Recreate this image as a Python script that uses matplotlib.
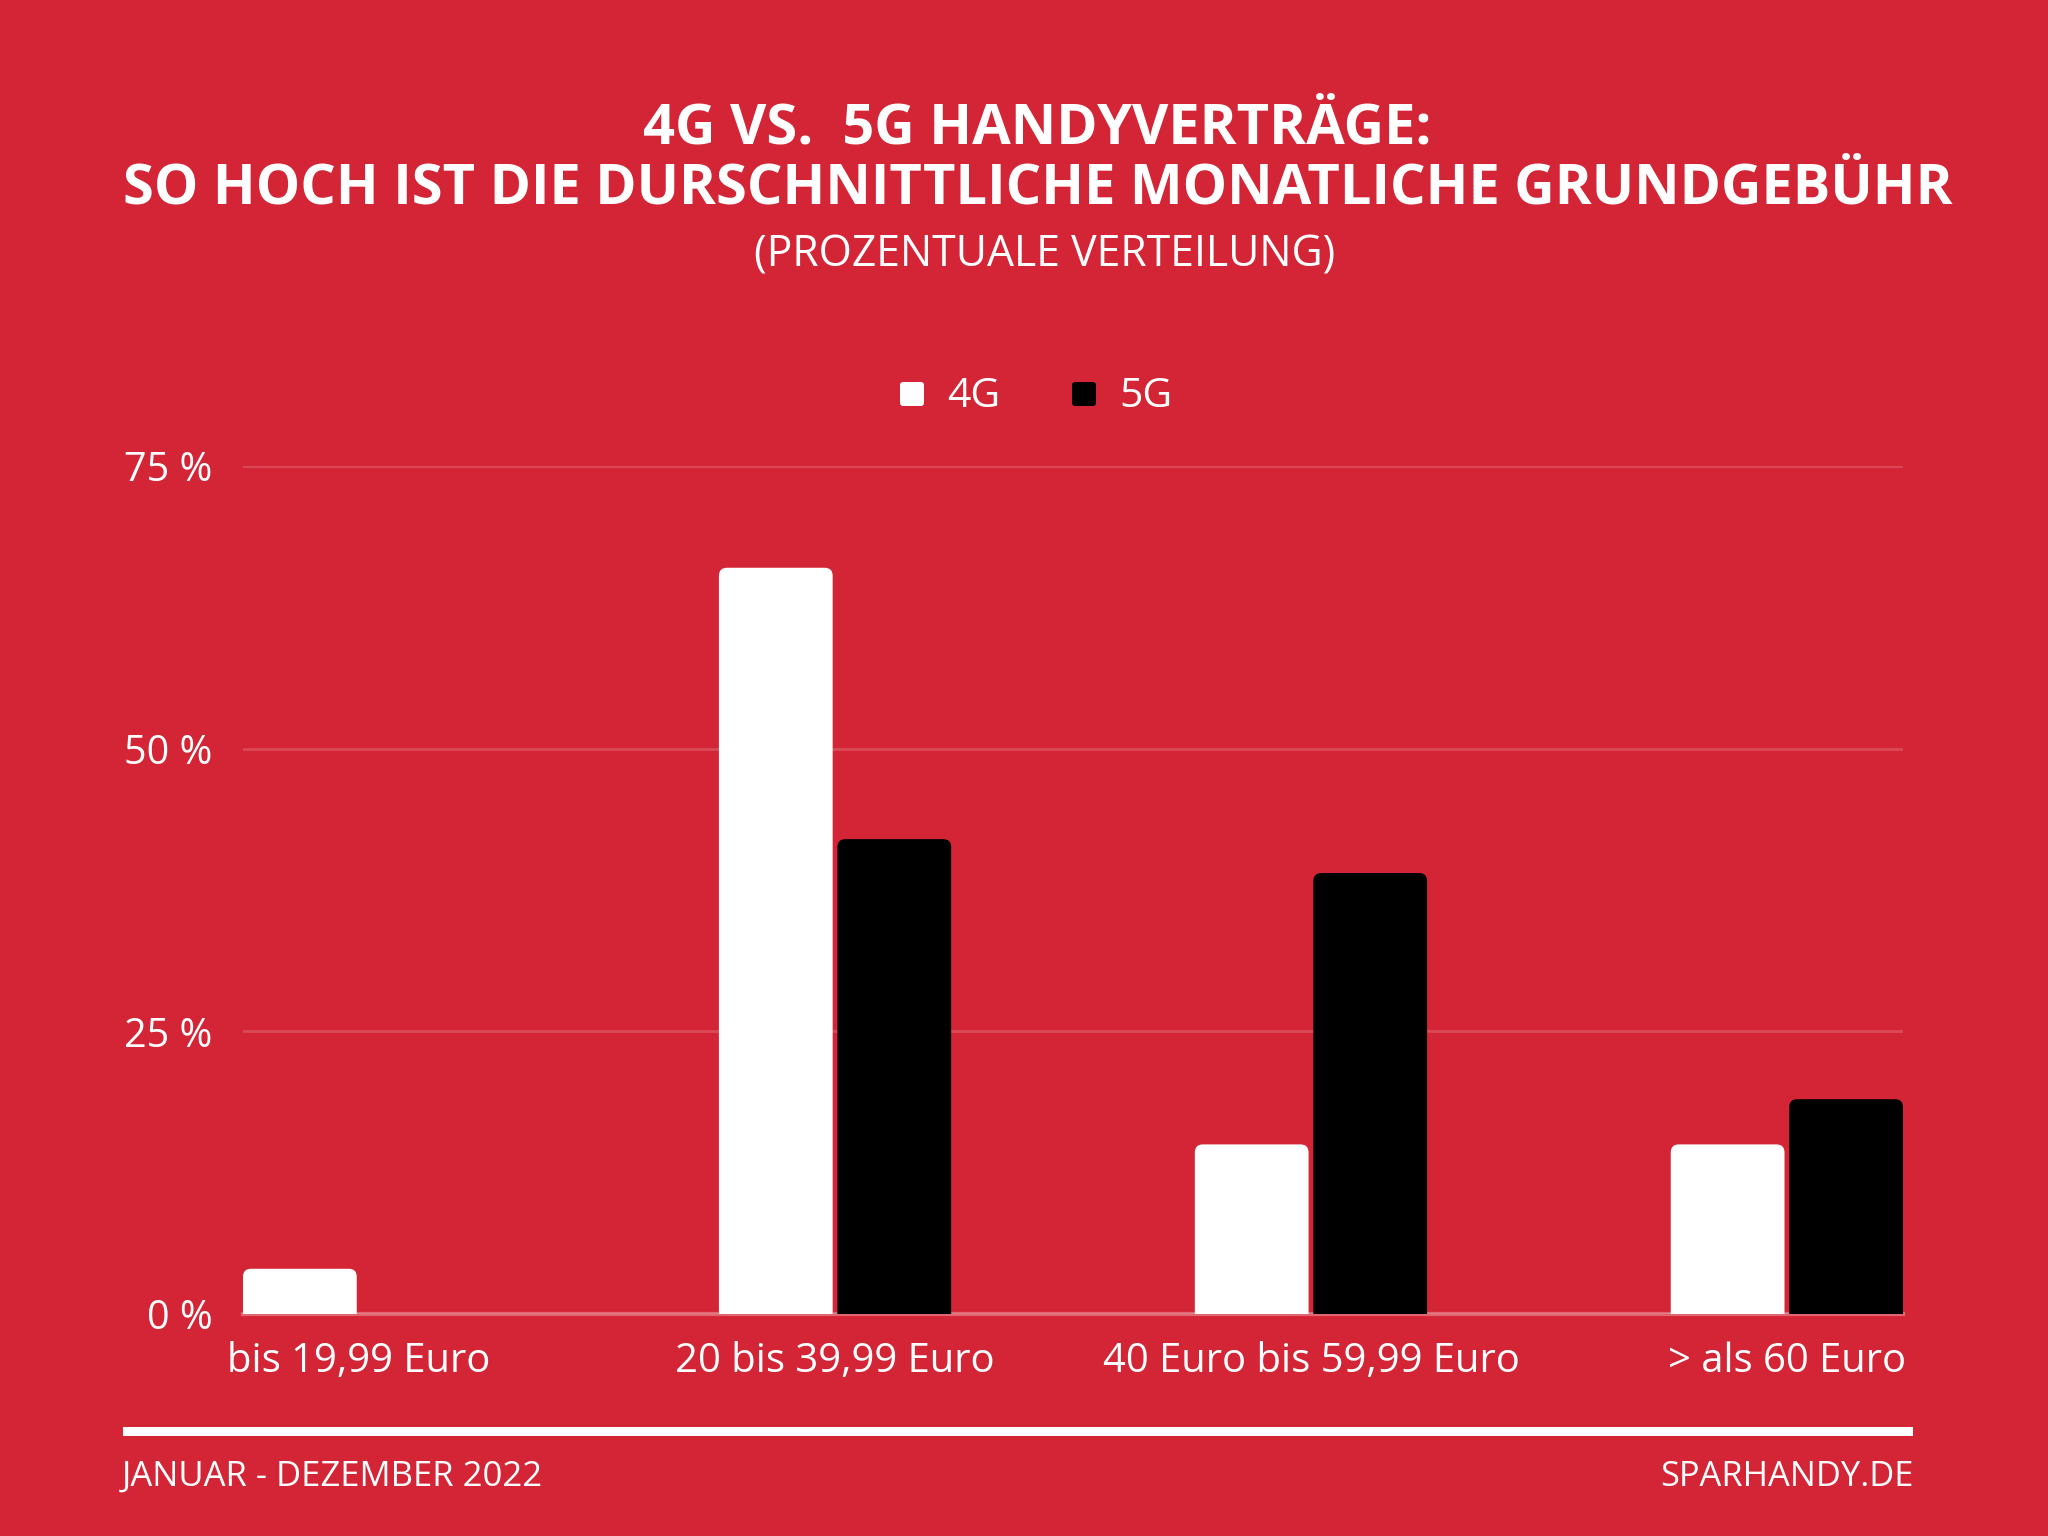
import matplotlib
matplotlib.use('Agg')
import matplotlib.pyplot as plt
from matplotlib.patches import FancyBboxPatch, Rectangle

categories = ['bis 19,99 Euro', '20 bis 39,99 Euro', '40 Euro bis 59,99 Euro', '> als 60 Euro']
values_4g = [4, 66, 15, 15]
values_5g = [0, 42, 39, 19]
y_ticks = [0, 25, 50, 75]
y_tick_labels = ['0 %', '25 %', '50 %', '75 %']

RED = '#D32535'
W, H = 2048, 1536
BAR_W = 0.239
OFFSET = 0.249

plt.rcParams['font.family'] = ['Open Sans', 'DejaVu Sans']

fig = plt.figure(figsize=(W / 100, H / 100), dpi=100, facecolor=RED)

# axes box in pixels of the full picture
left, right, top, bottom = 243, 1903, 466, 1314
ax = fig.add_axes([left / W, 1 - bottom / H, (right - left) / W, (bottom - top) / H])
ax.set_facecolor('none')
x_max = 3 + OFFSET + BAR_W
ax.set_xlim(0, x_max)
ax.set_ylim(0, 75)

ax.set_yticks(y_ticks, y_tick_labels)
ax.grid(axis='y', color='white', alpha=0.17, linewidth=2)
ax.set_axisbelow(True)
ax.tick_params(axis='y', length=0, pad=22, labelcolor='white', labelsize=28.5)
ax.set_xticks([i + (OFFSET + BAR_W) / 2 for i in range(len(categories))], categories)
ax.tick_params(axis='x', length=0, pad=20, labelcolor='white', labelsize=28.8)
for s in ax.spines.values():
    s.set_visible(False)
for lab in ax.get_yticklabels() + ax.get_xticklabels():
    lab.set_clip_on(False)

# baseline a bit lighter than the grid
ax.axhline(0, color='white', alpha=0.3, linewidth=3, clip_on=False)

# rounded bars, the bottom corners are cut off by the axes
x_per_px = x_max / (right - left)
y_per_px = 75 / (bottom - top)
aspect = y_per_px / x_per_px
def rounded_bar(x, val, color):
    if val <= 0:
        return
    p = FancyBboxPatch((x, -1), BAR_W, val + 1, boxstyle='round,pad=0,rounding_size=%f' % (8 * x_per_px),
                       mutation_aspect=aspect, facecolor=color, edgecolor='none', zorder=3)
    ax.add_patch(p)
    p.set_clip_path(ax.patch)

for i in range(len(categories)):
    rounded_bar(i, values_4g[i], 'white')
    rounded_bar(i + OFFSET, values_5g[i], 'black')

def px_text(x, y, s, **kw):
    fig.text(x / W, 1 - y / H, s, color='white', **kw)

px_text(1037, 129, '4G VS.  5G HANDYVERTRÄGE:', ha='center', va='center', fontsize=40.35, fontweight='bold')
px_text(1038, 189, 'SO HOCH IST DIE DURSCHNITTLICHE MONATLICHE GRUNDGEBÜHR', ha='center', va='center',
        fontsize=40.35, fontweight='bold')
px_text(1045, 255, '(PROZENTUALE VERTEILUNG)', ha='center', va='center', fontsize=30.8)

# legend
for x, c, name, tx in [(900, 'white', '4G', 947), (1072, 'black', '5G', 1119)]:
    fig.add_artist(FancyBboxPatch((x, H - 406), 24, 24, boxstyle='round,pad=0,rounding_size=3',
                                  transform=None, facecolor=c, edgecolor='none'))
    px_text(tx, 397, name, ha='left', va='center', fontsize=29.5)

# footer
fig.add_artist(Rectangle((123 / W, 1 - 1436 / H), 1790 / W, 9 / H, transform=fig.transFigure,
                         facecolor='white', edgecolor='none'))
px_text(122, 1477, 'JANUAR - DEZEMBER 2022', ha='left', va='center', fontsize=24.9)
px_text(1914, 1477, 'SPARHANDY.DE', ha='right', va='center', fontsize=24.8)

fig.savefig('out.png', dpi=100, facecolor=RED)
